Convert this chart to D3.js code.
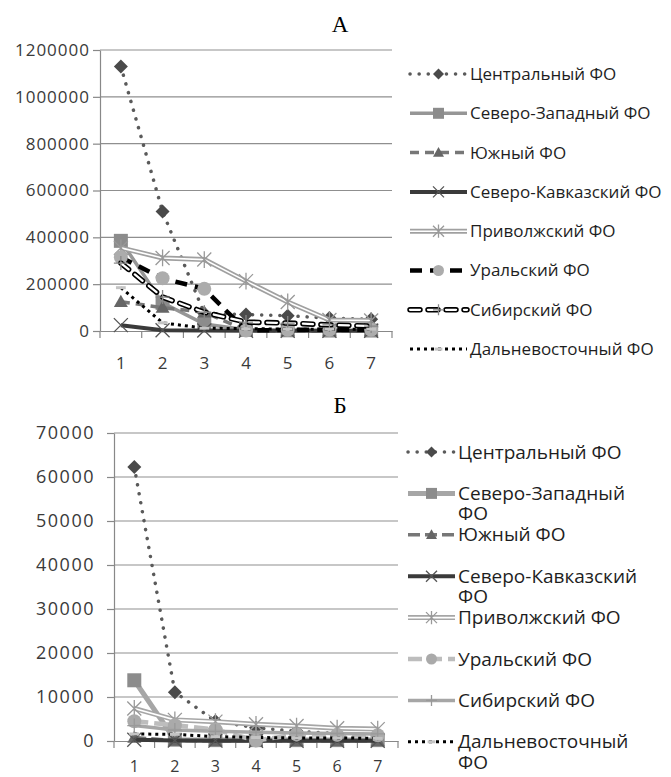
<!DOCTYPE html>
<html>
<head>
<meta charset="utf-8">
<script src="https://cdn.jsdelivr.net/npm/d3@7"></script>
<style>
  body { margin: 0; background: #fff; }
  svg text { font-family: "Open Sans", sans-serif; }
</style>
</head>
<body>
<div id="chart"></div>
<script>
// categories
var periods = ["1", "2", "3", "4", "5", "6", "7"];
var districtNames = ["Центральный ФО", "Северо-Западный ФО", "Южный ФО", "Северо-Кавказский ФО",
  "Приволжский ФО", "Уральский ФО", "Сибирский ФО", "Дальневосточный ФО"];

// chart A values
var centralA = [1130000, 510000, 75000, 70000, 65000, 55000, 50000];
var northWestA = [385000, 120000, 30000, 5000, 3000, 2000, 2000];
var southA = [125000, 100000, 80000, 3000, 1000, 1000, 1000];
var northCaucasusA = [25000, 3000, 2000, 1000, 1000, 1000, 1000];
var volgaA = [355000, 312000, 305000, 213000, 124000, 47000, 45000];
var uralA = [315000, 225000, 180000, 2000, 5000, 5000, 5000];
var siberiaA = [290000, 145000, 80000, 38000, 34000, 26000, 21000];
var farEastA = [185000, 35000, 12000, 10000, 8000, 8000, 8000];

// chart Б values
var centralB = [62300, 11100, 4500, 3000, 2200, 1700, 1400];
var northWestB = [13800, 300, 200, 200, 200, 200, 200];
var southB = [800, 100, 50, 50, 50, 50, 50];
var northCaucasusB = [300, 100, 80, 60, 50, 50, 50];
var volgaB = [7400, 4800, 4400, 3800, 3400, 2900, 2700];
var uralB = [4500, 3600, 2600, 100, 1500, 1400, 1300];
var siberiaB = [3500, 2500, 2200, 2000, 1800, 1700, 1600];
var farEastB = [1600, 1500, 1000, 800, 700, 700, 600];

var yTicksA = d3.range(0, 1200001, 200000);
var yTicksB = d3.range(0, 70001, 10000);

// line / marker styles
var stylesA = [
  {color: "#5a5a5a", width: 3.5, dash: "0.1 9", cap: "round", marker: "diamond", mcolor: "#4a4a4a"},
  {color: "#969696", width: 3.5, marker: "square", mcolor: "#8c8c8c"},
  {color: "#777", width: 3.5, dash: "9 6", marker: "triangle", mcolor: "#666"},
  {color: "#3a3a3a", width: 4, marker: "x", mcolor: "#555"},
  {color: "#a0a0a0", width: 5, inner: "#fff", innerWidth: 1.6, marker: "star", mcolor: "#999"},
  {color: "#000", width: 4.5, dash: "12 8", marker: "circle", mcolor: "#acacac"},
  {color: "#000", width: 5.5, dash: "10 8", cap: "round", inner: "#fff", innerWidth: 2.3, marker: "plus", mcolor: "#888"},
  {color: "#000", width: 3, dash: "3 4", marker: "dash", mcolor: "#c4c4c4"}
];
var stylesB = [
  {color: "#5a5a5a", width: 3.5, dash: "0.1 9", cap: "round", marker: "diamond", mcolor: "#4a4a4a"},
  {color: "#a6a6a6", width: 5, marker: "square", mcolor: "#8c8c8c"},
  {color: "#777", width: 3.5, dash: "12 5", marker: "triangle", mcolor: "#666"},
  {color: "#3a3a3a", width: 4, marker: "x", mcolor: "#555"},
  {color: "#a6a6a6", width: 5, inner: "#fff", innerWidth: 1.6, marker: "star", mcolor: "#999"},
  {color: "#bdbdbd", width: 4.5, dash: "14 6", marker: "circle", mcolor: "#aaa"},
  {color: "#a6a6a6", width: 3.5, marker: "plus", mcolor: "#999"},
  {color: "#000", width: 3, dash: "3 4", marker: "dash", mcolor: "#c4c4c4"}
];

var svg = d3.select("#chart").append("svg")
  .attr("width", 671)
  .attr("height", 777);

function markerPath(type, s) {
  switch (type) {
    case "diamond": return `M0,${-s}L${s},0L0,${s}L${-s},0Z`;
    case "square": return `M${-s},${-s}H${s}V${s}H${-s}Z`;
    case "triangle": return `M0,${-s}L${s},${s * 0.75}L${-s},${s * 0.75}Z`;
    case "x": return `M${-s},${-s}L${s},${s}M${s},${-s}L${-s},${s}`;
    case "star": return `M${-s},${-s}L${s},${s}M${s},${-s}L${-s},${s}M0,${-s * 1.2}V${s * 1.2}`;
    case "plus": return `M${-s},0H${s}M0,${-s}V${s}`;
    case "dash": return `M${-s * 0.7},-1.5H${s * 0.7}V1.5H${-s * 0.7}Z`;
    default: return "";
  }
}

function drawMarker(g, st, cx, cy, s) {
  if (st.marker === "circle") {
    g.append("circle").attr("cx", cx).attr("cy", cy).attr("r", s).attr("fill", st.mcolor);
    return;
  }
  var stroked = ["x", "star", "plus"].indexOf(st.marker) >= 0;
  g.append("path")
    .attr("d", markerPath(st.marker, s))
    .attr("transform", `translate(${cx},${cy})`)
    .attr("fill", stroked ? "none" : st.mcolor)
    .attr("stroke", stroked ? st.mcolor : "none")
    .attr("stroke-width", 1.3);
}

function drawLine(g, st, d) {
  g.append("path")
    .attr("d", d)
    .attr("fill", "none")
    .attr("stroke", st.color)
    .attr("stroke-width", st.width)
    .attr("stroke-dasharray", st.dash || null)
    .attr("stroke-linecap", st.cap || "butt");
  if (st.inner) {
    g.append("path")
      .attr("d", d)
      .attr("fill", "none")
      .attr("stroke", st.inner)
      .attr("stroke-width", st.innerWidth)
      .attr("stroke-dasharray", st.dash || null)
      .attr("stroke-linecap", st.cap || "butt");
  }
}

function drawChart(cfg) {
  var x = d3.scaleBand().domain(periods).range([cfg.left, cfg.right]);
  var y = d3.scaleLinear().domain([0, cfg.yMax]).range([cfg.bottom, cfg.top]);
  var bw = x.bandwidth();

  // title
  svg.append("text")
    .attr("x", cfg.titleX).attr("y", cfg.titleY)
    .attr("text-anchor", "middle")
    .style("font-family", "'Liberation Serif', serif")
    .style("font-size", "23px")
    .attr("fill", "#000")
    .text(cfg.title);

  // gridlines
  svg.append("g").selectAll("line")
    .data(cfg.yTicks.filter(d => d > 0))
    .enter().append("line")
    .attr("x1", cfg.left).attr("x2", cfg.right)
    .attr("y1", d => y(d)).attr("y2", d => y(d))
    .attr("stroke", "#8f8f8f").attr("stroke-width", 1.2);

  // y axis
  var yAxis = svg.append("g")
    .attr("transform", `translate(${cfg.left},0)`)
    .call(d3.axisLeft(y).tickValues(cfg.yTicks).tickFormat(d3.format("d"))
      .tickSize(7).tickPadding(cfg.yPad).tickSizeOuter(0));
  yAxis.select(".domain").attr("stroke", "#888").attr("stroke-width", 1.2);
  yAxis.selectAll(".tick line").attr("stroke", "#888").attr("stroke-width", 1.2);
  yAxis.selectAll("text")
    .style("font-size", cfg.axisFont + "px")
    .style("letter-spacing", cfg.yLetter + "px")
    .attr("fill", "#3a3a3a");

  // x axis
  var xAxis = svg.append("g")
    .attr("transform", `translate(0,${cfg.bottom})`)
    .call(d3.axisBottom(x).tickSize(0).tickPadding(cfg.xPad));
  xAxis.select(".domain").attr("stroke", "#888").attr("stroke-width", 1.2);
  xAxis.selectAll("text").style("font-size", cfg.xFont + "px").attr("fill", "#3a3a3a");
  xAxis.selectAll(".bound")
    .data(d3.range(periods.length + 1))
    .enter().append("line")
    .attr("x1", i => cfg.left + i * bw).attr("x2", i => cfg.left + i * bw)
    .attr("y1", 0).attr("y2", 7)
    .attr("stroke", "#888").attr("stroke-width", 1.2);

  // series
  var line = d3.line()
    .x((d, i) => x(periods[i]) + bw / 2)
    .y(d => y(d));
  var plot = svg.append("g");
  cfg.series.forEach(function(vals, k) {
    var st = cfg.styles[k];
    var sg = plot.append("g");
    drawLine(sg, st, line(vals));
    vals.forEach(function(v, i) {
      drawMarker(sg, st, x(periods[i]) + bw / 2, y(v), 7);
    });
  });

  // legend
  var leg = svg.append("g");
  districtNames.forEach(function(name, k) {
    var st = cfg.styles[k];
    var ly = cfg.legendY + k * cfg.legendStep;
    var lg = leg.append("g");
    drawLine(lg, st, `M${cfg.legendX},${ly}H${cfg.legendX + cfg.legendLen}`);
    drawMarker(lg, st, cfg.legendX + cfg.legendLen / 2, ly, 5.5);
    var t = lg.append("text")
      .attr("x", cfg.legendX + cfg.legendLen + 3)
      .attr("y", ly)
      .attr("dy", "0.35em")
      .style("font-size", cfg.legendFont + "px")
      .attr("fill", "#1e1e1e")
      .text(name);
    // wrap last word if too wide
    if (t.node().getComputedTextLength() > cfg.legendMaxW) {
      var words = name.split(" ");
      var last = words.pop();
      t.text(words.join(" "));
      lg.append("text")
        .attr("x", cfg.legendX + cfg.legendLen + 3)
        .attr("y", ly + cfg.legendFont * 1.07)
        .attr("dy", "0.35em")
        .style("font-size", cfg.legendFont + "px")
        .attr("fill", "#1e1e1e")
        .text(last);
    }
  });
}

drawChart({
  title: "А", titleX: 340, titleY: 32,
  left: 100, right: 392, top: 50, bottom: 331,
  yMax: 1200000, yTicks: yTicksA, yPad: 3, yLetter: 1, xPad: 26, axisFont: 17, xFont: 17,
  series: [centralA, northWestA, southA, northCaucasusA, volgaA, uralA, siberiaA, farEastA],
  styles: stylesA,
  legendX: 410, legendLen: 57, legendY: 74, legendStep: 39.3, legendFont: 17, legendMaxW: 250
});

drawChart({
  title: "Б", titleX: 340, titleY: 413,
  left: 114, right: 398, top: 433, bottom: 741,
  yMax: 70000, yTicks: yTicksB, yPad: 12, yLetter: 1.5, xPad: 20, axisFont: 18, xFont: 16,
  series: [centralB, northWestB, southB, northCaucasusB, volgaB, uralB, siberiaB, farEastB],
  styles: stylesB,
  legendX: 408, legendLen: 47, legendY: 452, legendStep: 41.4, legendFont: 19, legendMaxW: 195
});
</script>
</body>
</html>
